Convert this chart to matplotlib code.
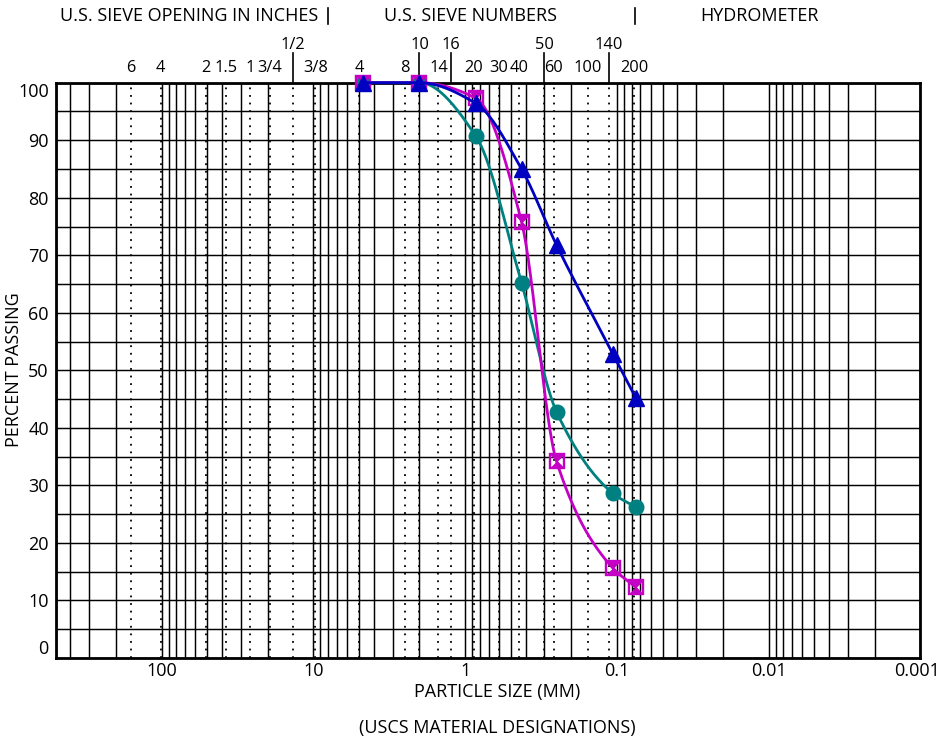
import numpy as np
import matplotlib
matplotlib.use('Agg')
import matplotlib.pyplot as plt
from matplotlib.path import Path
from matplotlib.lines import Line2D
from matplotlib.ticker import FixedLocator, LogLocator, NullFormatter, MultipleLocator

plt.rcParams['font.family'] = ['Open Sans', 'DejaVu Sans']

# ---------------- data ----------------
sizes_mm = [4.75, 2.0, 0.85, 0.425, 0.25, 0.106, 0.075]
teal_pct = [100, 100, 90.7, 65.2, 42.8, 28.6, 26.2]
blue_pct = [100, 100, 96.4, 85.0, 71.8, 52.8, 45.2]
magenta_pct = [100, 100, 97.3, 75.8, 34.2, 15.6, 12.3]

sieve_labels = ["6", "4", "2", "1.5", "1", "3/4", "1/2", "3/8", "4", "8", "10",
                "14", "16", "20", "30", "40", "50", "60", "100", "140", "200"]
sieve_mm = [159, 101.6, 50.8, 37.8, 26.2, 19.4, 13.7, 9.7, 4.99, 2.49, 2.0,
            1.50, 1.246, 0.88, 0.6, 0.44, 0.3, 0.26, 0.155, 0.1127, 0.077]
sieve_upper = ["1/2", "10", "16", "50", "140"]

x_tick_vals = [100, 10, 1, 0.1, 0.01, 0.001]
x_tick_text = ["100", "10", "1", "0.1", "0.01", "0.001"]
y_tick_vals = [0, 10, 20, 30, 40, 50, 60, 70, 80, 90, 100]

header_texts = ["U.S. SIEVE OPENING IN INCHES", "U.S. SIEVE NUMBERS", "HYDROMETER"]

TEAL = '#008080'
BLUE = '#0000C0'
MAGENTA = '#C400C4'
FS = 13
FS_SIEVE = 11.8


def pchip(x, y, xn):
    x = np.asarray(x, float); y = np.asarray(y, float)
    h = np.diff(x); d = np.diff(y) / h
    n = len(x)
    m = np.zeros(n)
    for k in range(1, n - 1):
        if d[k - 1] * d[k] > 0:
            w1 = 2 * h[k] + h[k - 1]
            w2 = h[k] + 2 * h[k - 1]
            m[k] = (w1 + w2) / (w1 / d[k - 1] + w2 / d[k])
    m[0] = d[0]
    m[-1] = d[-1]
    out = np.empty_like(xn)
    idx = np.clip(np.searchsorted(x, xn) - 1, 0, n - 2)
    for i, (xv, k) in enumerate(zip(xn, idx)):
        t = (xv - x[k]) / h[k]
        h00 = 2 * t**3 - 3 * t**2 + 1
        h10 = t**3 - 2 * t**2 + t
        h01 = -2 * t**3 + 3 * t**2
        h11 = t**3 - t**2
        out[i] = h00 * y[k] + h10 * h[k] * m[k] + h01 * y[k + 1] + h11 * h[k] * m[k + 1]
    return out


def smooth(sizes, pct):
    u = np.log10(np.asarray(sizes))[::-1]
    p = np.asarray(pct)[::-1]
    un = np.linspace(u[0], u[-1], 400)
    return 10 ** un, pchip(u, p, un)


W, H = 939, 741
fig = plt.figure(figsize=(W / 100, H / 100), dpi=100)
L, R, T, B = 55.7, 920.3, 82.7, 658.0
ax = fig.add_axes([L / W, 1 - B / H, (R - L) / W, (B - T) / H])

ax.set_xscale('log')
ax.set_xlim(500, 0.001)
ax.set_ylim(0, 100)

# grid
ax.xaxis.set_major_locator(FixedLocator(x_tick_vals))
ax.set_xticklabels(x_tick_text[:-1] + [""])
ax.xaxis.set_minor_locator(LogLocator(base=10, subs=range(2, 10), numticks=50))
ax.xaxis.set_minor_formatter(NullFormatter())
ax.yaxis.set_major_locator(FixedLocator(y_tick_vals))
ax.yaxis.set_minor_locator(MultipleLocator(5))
ax.grid(True, which='both', axis='both', color='black', lw=1.05)
ax.tick_params(which='both', length=0, labelsize=FS, colors='black')
ax.tick_params(axis='x', pad=3)
ax.tick_params(axis='y', pad=5)
for sp in ax.spines.values():
    sp.set_linewidth(2.0)
    sp.set_zorder(2.5)
ax.set_axisbelow(True)

# last x label placed by hand so it stays inside the figure
fig.text(917 / W, 1 - 671 / H, x_tick_text[-1], ha='center', va='center', fontsize=FS)

# sieve dotted lines + labels
xtr = ax.get_xaxis_transform()
for lab, s in zip(sieve_labels, sieve_mm):
    ax.axvline(s, color='black', lw=1.3, ls=(0, (1, 3.2)), zorder=1)
    if lab in sieve_upper:
        ax.text(s, 1 + (T - 45) / (B - T), lab, transform=xtr, ha='center', va='center', fontsize=FS_SIEVE)
        ax.add_line(Line2D([s, s], [1.0, 1 + (T - 53) / (B - T)], transform=xtr,
                           color='black', lw=1.2, clip_on=False))
    else:
        ax.text(s, 1 + (T - 68) / (B - T), lab, transform=xtr, ha='center', va='center', fontsize=FS_SIEVE)

# hourglass marker
hg = Path([(-1, 1), (1, 1), (0, 0), (-1, 1), (-1, -1), (1, -1), (0, 0), (-1, -1)],
          [Path.MOVETO, Path.LINETO, Path.LINETO, Path.CLOSEPOLY,
           Path.MOVETO, Path.LINETO, Path.LINETO, Path.CLOSEPOLY])

xs, ys = smooth(sizes_mm, teal_pct)
ax.plot(xs, ys, color=TEAL, lw=2.0, zorder=3, solid_capstyle='round', clip_on=False)
ax.plot(sizes_mm, teal_pct, 'o', color=TEAL, ms=10.5, zorder=4, clip_on=False)

xs, ys = smooth(sizes_mm, magenta_pct)
ax.plot(xs, ys, color=MAGENTA, lw=2.0, zorder=5, solid_capstyle='round', clip_on=False)
ax.plot(sizes_mm, magenta_pct, 's', mfc='none', mec=MAGENTA, mew=1.7, ms=10, zorder=6, clip_on=False)
ax.plot(sizes_mm, magenta_pct, ls='none', marker=hg, color=MAGENTA, mew=0.5, ms=9.5, zorder=6, clip_on=False)

xs, ys = smooth(sizes_mm, blue_pct)
ax.plot(xs, ys, color=BLUE, lw=2.0, zorder=7, solid_capstyle='round', clip_on=False)
ax.plot(sizes_mm, blue_pct, '^', color=BLUE, ms=11.5, zorder=8, clip_on=False)

# align first/last y labels
fig.canvas.draw()
yt = ax.yaxis.get_major_ticks()
yt[0].label1.set_va('bottom')
yt[-1].label1.set_va('top')

# headers
fig.text(189 / W, 1 - 16 / H, header_texts[0], ha='center', va='center', fontsize=FS)
fig.text(471 / W, 1 - 16 / H, header_texts[1], ha='center', va='center', fontsize=FS)
fig.text(760 / W, 1 - 16 / H, header_texts[2], ha='center', va='center', fontsize=FS)
for xp in (328, 635):
    fig.add_artist(Line2D([xp / W, xp / W], [1 - 8 / H, 1 - 24 / H], color='black', lw=1.2))

fig.text(14 / W, 1 - 370 / H, "PERCENT PASSING", rotation=90, ha='center', va='center', fontsize=FS)
fig.text(497 / W, 1 - 692 / H, "PARTICLE SIZE (MM)", ha='center', va='center', fontsize=FS)
fig.text(497 / W, 1 - 728 / H, "(USCS MATERIAL DESIGNATIONS)", ha='center', va='center', fontsize=FS)

fig.savefig('out.png', dpi=100)
